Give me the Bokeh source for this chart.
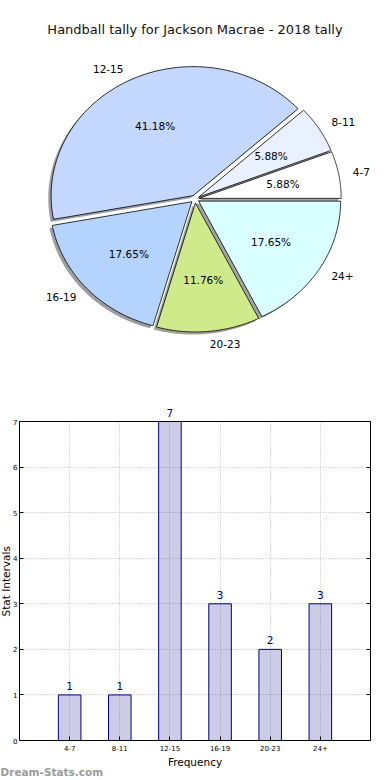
import numpy as np
from bokeh.plotting import figure
from bokeh.models import Range1d, FixedTicker, Label, Title, Span, LinearAxis
from bokeh.layouts import column
from bokeh.embed import file_html
from bokeh.resources import INLINE

# ---------------- data ----------------
title_text = "Handball tally for Jackson Macrae - 2018 tally"
categories = ["4-7", "8-11", "12-15", "16-19", "20-23", "24+"]
counts = [1, 1, 7, 3, 2, 3]
slice_colors = ["#FFFFFF", "#E9F0FF", "#C4D8FF", "#B4D4FF", "#CFEA8B", "#D9FFFF"]
y_ticks = [0, 1, 2, 3, 4, 5, 6, 7]
x_label = "Frequency"
y_label = "Stat Intervals"
watermark = "Dream-Stats.com"

FONT = "DejaVu Sans"
W = 390
FL, FR = 19, 20          # left/right frame borders shared by both plots (px)

# ---------------- pie ----------------
H1 = 398
TOP1 = 41
PX_X, PX_Y = 142.0, 129.0
cx_fig, cy_fig = 194.5, 198.6
x0 = (FL - cx_fig) / PX_X
x1 = (W - FR - cx_fig) / PX_X
y1 = (cy_fig - TOP1) / PX_Y
y0 = y1 - (H1 - TOP1) / PX_Y

p1 = figure(width=W, height=H1, x_range=Range1d(x0, x1), y_range=Range1d(y0, y1),
            output_backend="svg", toolbar_location=None, title=title_text,
            x_axis_location=None, y_axis_location=None,
            min_border_left=FL, min_border_right=FR, min_border_bottom=0,
            min_border_top=TOP1)
p1.title.align = "center"
p1.title.text_font = FONT
p1.title.text_font_size = "13px"
p1.title.text_font_style = "normal"
p1.title.text_color = "#111111"
p1.title.standoff = 10
p1.grid.visible = False
p1.outline_line_color = None

vals = np.array(counts, dtype=float)
frac = vals / vals.sum()
ends = np.cumsum(frac) * 2 * np.pi
starts = ends - frac * 2 * np.pi
mids = (starts + ends) / 2
explode = 0.03
shadow_off = 0.02

xs, ys, sxs, sys_, shadow_cols = [], [], [], [], []
for s, e, m, c in zip(starts, ends, mids, slice_colors):
    ox, oy = explode * np.cos(m), explode * np.sin(m)
    th = np.linspace(s, e, 80)
    px = np.concatenate([[ox], ox + np.cos(th)])
    py = np.concatenate([[oy], oy + np.sin(th)])
    xs.append(list(px)); ys.append(list(py))
    sxs.append(list(px - shadow_off)); sys_.append(list(py - shadow_off))
    r, g, b = int(c[1:3], 16), int(c[3:5], 16), int(c[5:7], 16)
    shadow_cols.append("#%02x%02x%02x" % (int(r * 0.3), int(g * 0.3), int(b * 0.3)))

p1.patches(xs=sxs, ys=sys_, fill_color=shadow_cols, fill_alpha=0.5, line_color=None)
p1.patches(xs=xs, ys=ys, fill_color=slice_colors, line_color="black", line_width=0.8)

lab_x = explode * np.cos(mids) + 1.1 * np.cos(mids)
lab_y = explode * np.sin(mids) + 1.1 * np.sin(mids)
right_side = lab_x > 0
for mask, align in ((right_side, "left"), (~right_side, "right")):
    p1.text(x=lab_x[mask], y=lab_y[mask], text=[categories[i] for i in np.where(mask)[0]],
            text_align=align, text_baseline="middle", text_font_size="10.5px",
            text_color="black", text_font={"value": FONT})

pct_x = explode * np.cos(mids) + 0.6 * np.cos(mids)
pct_y = explode * np.sin(mids) + 0.6 * np.sin(mids)
pct_text = ["%.2f%%" % (100 * f) for f in frac]
p1.text(x=pct_x, y=pct_y, text=pct_text, text_align="center", text_baseline="middle",
        text_font_size="10.5px", text_color="black", text_font={"value": FONT})

# ---------------- bars ----------------
H2 = 382
BOX_TOP = 23      # px from figure top to the y=7 line
FB = 40
xpos = list(range(len(categories)))
XMIN, XMAX = -1, 6
YMAX = y_ticks[-1]
px_per_y = (H2 - FB - BOX_TOP) / (YMAX - y_ticks[0])
y_end = YMAX + BOX_TOP / px_per_y

p2 = figure(width=W, height=H2, x_range=Range1d(XMIN, XMAX),
            y_range=Range1d(y_ticks[0], y_end),
            output_backend="svg", toolbar_location=None,
            min_border_left=FL, min_border_right=FR, min_border_top=0,
            min_border_bottom=FB)
p2.outline_line_color = None

p2.xaxis.ticker = FixedTicker(ticks=xpos)
p2.xaxis.major_label_overrides = {i: c for i, c in zip(xpos, categories)}
p2.yaxis.ticker = FixedTicker(ticks=y_ticks)
p2.yaxis.bounds = (y_ticks[0], YMAX)
p2.xgrid.ticker = FixedTicker(ticks=xpos)
p2.ygrid.ticker = FixedTicker(ticks=y_ticks)
p2.grid.grid_line_color = "#b8b8b8"
p2.grid.grid_line_dash = "1 2"
p2.grid.grid_line_width = 1

# blank the strip above the y=7 box edge (value labels live there)
p2.quad(left=XMIN, right=XMAX, bottom=YMAX, top=y_end, fill_color="white",
        line_color=None)

p2.vbar(x=xpos, top=counts, width=0.45, fill_color="#000080", fill_alpha=0.2,
        line_color="#000080", line_width=1)

# top edge of the box
p2.add_layout(Span(location=YMAX, dimension="width", line_color="black", line_width=1))

# right edge of the box with inward ticks
rax = LinearAxis(ticker=FixedTicker(ticks=y_ticks), bounds=(y_ticks[0], YMAX),
                 major_label_text_font_size="0px", major_label_standoff=0,
                 major_tick_in=4, major_tick_out=0, minor_tick_line_color=None,
                 axis_line_color="black", major_tick_line_color="black")
rax.major_label_overrides = {t: "" for t in y_ticks}
p2.add_layout(rax, "right")

for ax in (p2.xaxis[0], p2.yaxis[0]):
    ax.axis_line_color = "black"
    ax.major_tick_in = 4
    ax.major_tick_out = 0
    ax.minor_tick_line_color = None
    ax.major_tick_line_color = "black"
    ax.major_label_text_font = FONT
    ax.major_label_text_font_size = "7px"
    ax.major_label_text_color = "black"
    ax.axis_label_text_font = FONT
    ax.axis_label_text_font_size = "10.5px"
    ax.axis_label_text_font_style = "normal"
    ax.axis_label_text_color = "black"
p2.xaxis[0].axis_label = x_label
p2.xaxis[0].major_label_standoff = 4
p2.xaxis[0].axis_label_standoff = 2
p2.yaxis[0].major_label_standoff = 2

ytitle = Title(text=y_label, align="left", offset=124, vertical_align="middle",
               text_font=FONT, text_font_size="10.5px", text_font_style="normal",
               text_color="black", standoff=-4)
p2.add_layout(ytitle, "left")

wm = Title(text=watermark, align="left", offset=-FL, vertical_align="middle",
           text_font=FONT, text_font_size="10.5px", text_font_style="bold",
           text_color="#9a9a9a", standoff=-11)
p2.add_layout(wm, "below")

# value labels above the bars
for xi, v in zip(xpos, counts):
    p2.add_layout(Label(x=xi, y=v, text=str(v), text_align="center",
                        text_baseline="bottom", y_offset=5, text_font=FONT,
                        text_font_size="10.5px", text_color="#000080"))

layout = column(p1, p2, spacing=0)
open("out.html", "w").write(file_html(layout, INLINE))
